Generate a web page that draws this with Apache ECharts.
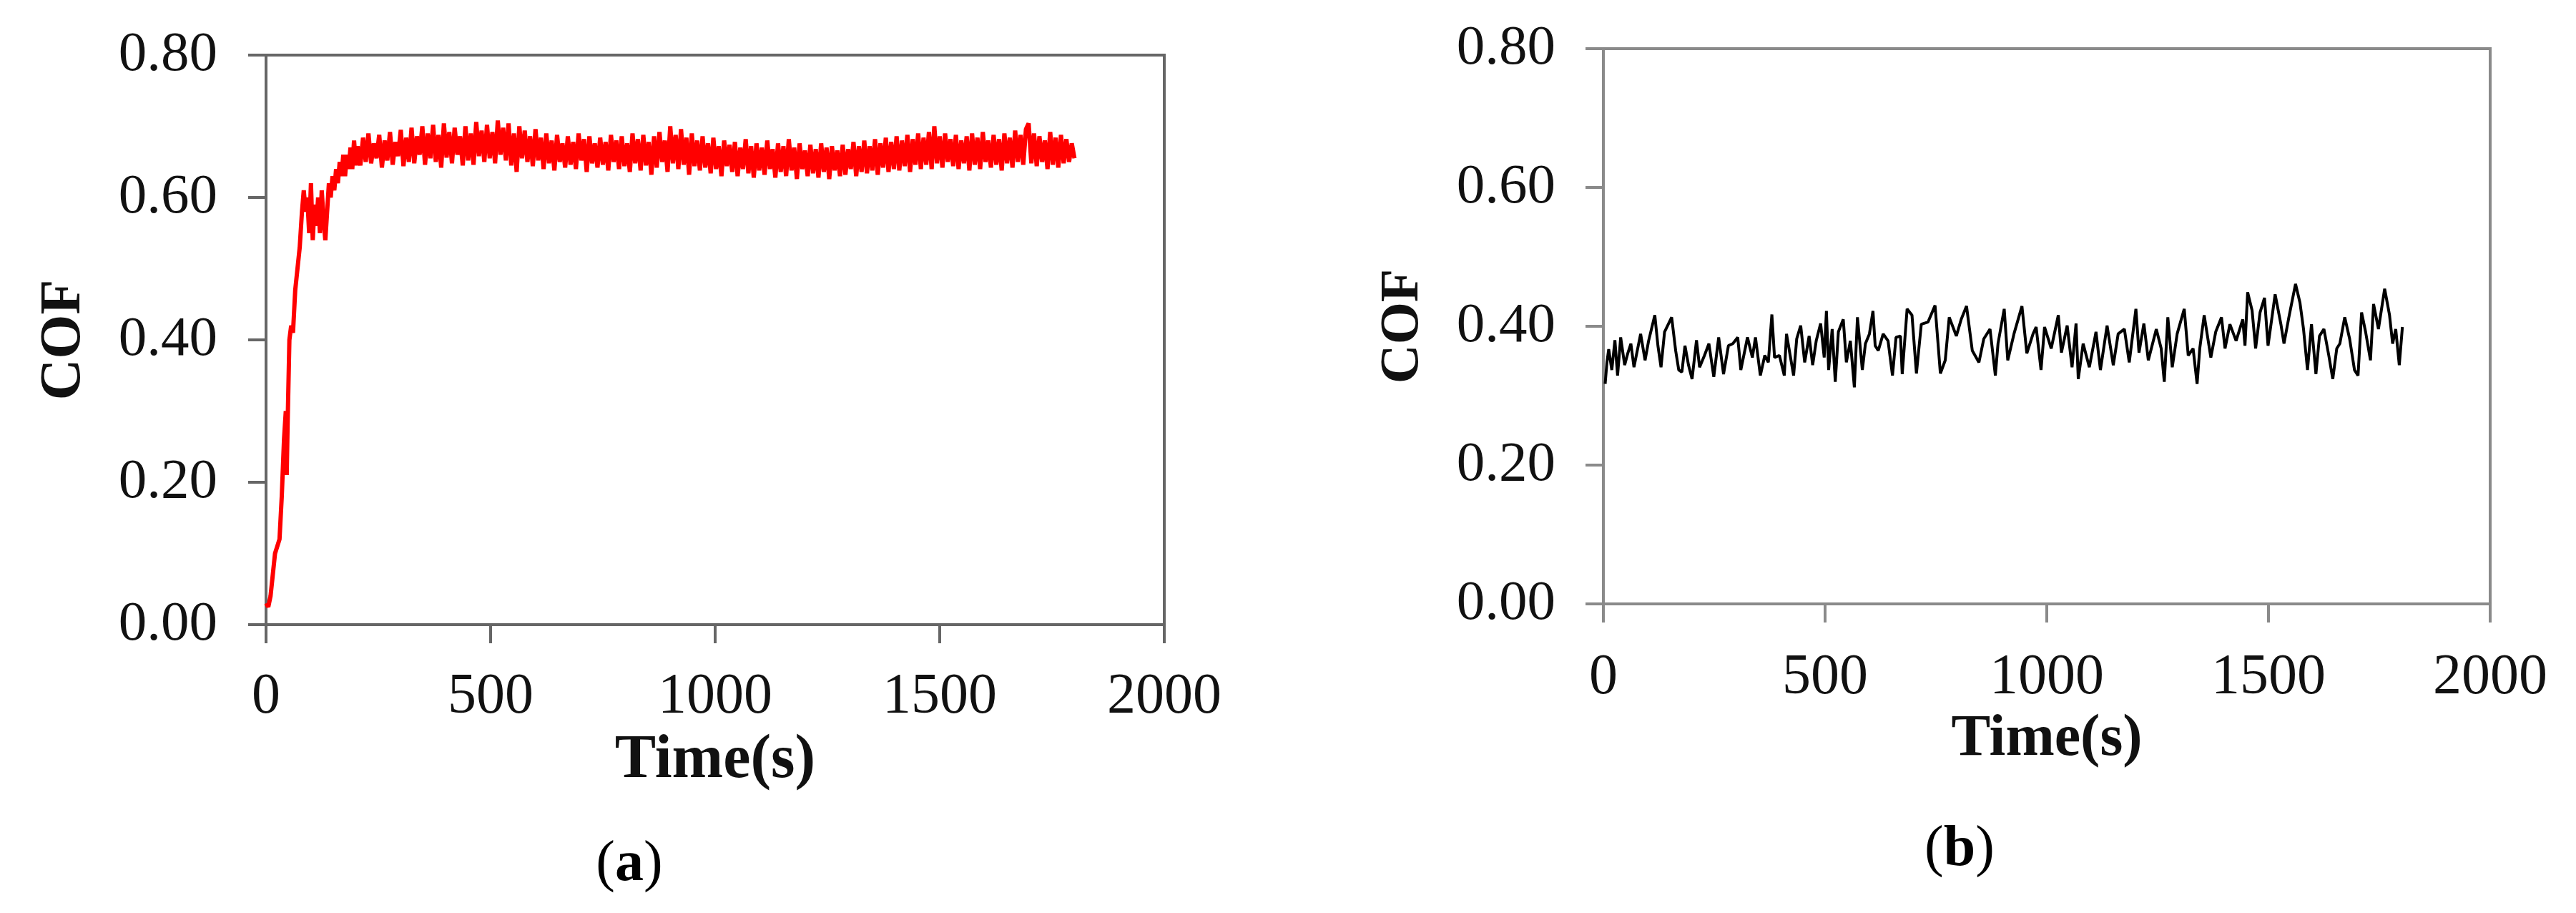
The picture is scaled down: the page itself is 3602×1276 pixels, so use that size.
<!DOCTYPE html>
<html>
<head>
<meta charset="utf-8">
<script src="https://cdn.jsdelivr.net/npm/echarts@6/dist/echarts.min.js"></script>
<style>
html,body{margin:0;padding:0;background:#fff;}
#c{width:3602px;height:1276px;}
</style>
</head>
<body>
<div id="c"></div>
<script>
// ---------- Panel (a): red curve ----------
const timeRiseA = [0,5,10,15,20,25,30,35,40,44,46,48,52,56,60,65,70,75,80,84,88,92,96,100,104,108,112,116,120,124,128,132,136,140,144,148,152,156,160,164,168,172,176,180,184,188,192,196,200];
const cofRiseA = [0.03,0.025,0.04,0.07,0.10,0.11,0.12,0.18,0.26,0.30,0.21,0.28,0.40,0.42,0.41,0.47,0.50,0.53,0.58,0.61,0.58,0.60,0.55,0.62,0.54,0.59,0.56,0.60,0.55,0.61,0.57,0.54,0.58,0.62,0.60,0.63,0.61,0.64,0.62,0.65,0.63,0.66,0.63,0.66,0.64,0.67,0.64,0.68,0.645];
// plateau sampled every 6 s from 204 s to 1800 s
const plateauStartA = 204;
const plateauStepA = 6;
const cofPlateauA = [
0.672,0.645,0.684,0.650,0.690,0.648,0.676,0.655,0.688,0.642,
0.680,0.652,0.692,0.646,0.678,0.658,0.695,0.644,0.684,0.650,
0.698,0.648,0.686,0.660,0.700,0.646,0.690,0.655,0.702,0.650,
0.688,0.642,0.704,0.656,0.692,0.648,0.698,0.660,0.686,0.645,
0.700,0.652,0.690,0.646,0.706,0.658,0.694,0.650,0.702,0.655,
0.692,0.648,0.708,0.660,0.698,0.652,0.704,0.645,0.690,0.636,
0.700,0.655,0.694,0.650,0.686,0.644,0.696,0.652,0.684,0.640,
0.690,0.648,0.680,0.638,0.688,0.650,0.676,0.642,0.686,0.646,
0.678,0.640,0.690,0.652,0.682,0.636,0.686,0.648,0.676,0.642,
0.684,0.646,0.678,0.638,0.688,0.650,0.680,0.640,0.686,0.644,
0.676,0.636,0.690,0.648,0.682,0.638,0.688,0.645,0.678,0.632,
0.686,0.642,0.692,0.650,0.680,0.636,0.700,0.648,0.688,0.640,
0.696,0.646,0.684,0.632,0.690,0.644,0.680,0.638,0.686,0.642,
0.676,0.634,0.684,0.640,0.672,0.630,0.680,0.644,0.674,0.636,
0.678,0.630,0.670,0.640,0.682,0.634,0.672,0.628,0.676,0.638,
0.670,0.632,0.680,0.640,0.668,0.628,0.676,0.636,0.672,0.630,
0.682,0.638,0.670,0.626,0.676,0.640,0.666,0.630,0.674,0.634,
0.668,0.628,0.676,0.636,0.670,0.626,0.672,0.638,0.666,0.630,
0.674,0.632,0.668,0.640,0.678,0.630,0.672,0.636,0.680,0.634,
0.672,0.638,0.682,0.632,0.676,0.642,0.684,0.636,0.678,0.640,
0.686,0.638,0.680,0.644,0.688,0.636,0.682,0.646,0.690,0.640,
0.684,0.646,0.692,0.640,0.700,0.648,0.686,0.642,0.690,0.650,
0.682,0.644,0.688,0.640,0.680,0.648,0.686,0.638,0.690,0.646,
0.684,0.640,0.692,0.650,0.680,0.642,0.688,0.646,0.682,0.638,
0.690,0.648,0.684,0.642,0.694,0.650,0.688,0.646,0.696,0.704,
0.648,0.690,0.644,0.686,0.650,0.680,0.640,0.692,0.646,0.684,
0.642,0.688,0.648,0.682,0.650,0.676,0.655
];

// ---------- Panel (b): black curve ----------
const timeB = [4,8,12,19,26,32,39,48,55,62,69,84,94,102,116,123,130,138,154,163,170,177,184,192,200,210,217,228,238,249,260,271,282,292,303,310,325,336,343,354,364,372,380,386,397,408,413,429,436,445,454,464,472,480,490,498,503,508,516,523,530,541,548,557,566,573,584,591,600,608,613,620,631,642,652,660,670,674,685,696,706,717,732,748,760,771,780,796,807,819,832,847,858,872,884,890,904,912,926,944,955,969,976,987,995,1010,1026,1033,1046,1057,1066,1071,1082,1096,1111,1121,1136,1150,1161,1175,1186,1201,1208,1219,1229,1247,1258,1265,1273,1283,1294,1310,1319,1330,1339,1345,1355,1370,1381,1394,1402,1413,1427,1442,1447,1453,1463,1471,1481,1491,1499,1515,1528,1535,1546,1561,1571,1579,1588,1597,1607,1615,1625,1636,1645,1654,1661,1672,1683,1694,1702,1710,1719,1730,1737,1748,1762,1773,1780,1787,1795,1802];
const cofB = [0.317,0.348,0.367,0.337,0.380,0.329,0.384,0.344,0.361,0.375,0.341,0.389,0.351,0.379,0.416,0.372,0.341,0.392,0.413,0.365,0.337,0.334,0.372,0.344,0.324,0.380,0.341,0.358,0.375,0.327,0.384,0.331,0.372,0.375,0.384,0.337,0.384,0.355,0.384,0.329,0.358,0.348,0.417,0.355,0.358,0.329,0.389,0.329,0.382,0.401,0.348,0.386,0.344,0.379,0.404,0.355,0.422,0.337,0.396,0.320,0.392,0.410,0.348,0.379,0.312,0.413,0.337,0.375,0.389,0.422,0.372,0.365,0.389,0.379,0.329,0.384,0.386,0.331,0.425,0.416,0.332,0.403,0.406,0.430,0.332,0.351,0.413,0.386,0.410,0.429,0.365,0.348,0.382,0.396,0.329,0.375,0.425,0.351,0.389,0.429,0.361,0.389,0.399,0.337,0.399,0.368,0.416,0.362,0.401,0.341,0.404,0.324,0.375,0.341,0.392,0.337,0.401,0.344,0.389,0.396,0.348,0.425,0.362,0.404,0.351,0.396,0.368,0.320,0.413,0.341,0.389,0.425,0.358,0.368,0.317,0.368,0.416,0.355,0.392,0.413,0.368,0.403,0.379,0.410,0.372,0.449,0.423,0.368,0.420,0.441,0.372,0.446,0.403,0.375,0.413,0.461,0.434,0.396,0.337,0.403,0.331,0.386,0.396,0.358,0.324,0.368,0.375,0.413,0.382,0.337,0.329,0.420,0.392,0.351,0.432,0.396,0.454,0.416,0.375,0.396,0.344,0.399];

// ---------- Axes ----------
const xTicks = [0, 500, 1000, 1500, 2000];
const yTicks = [0.00, 0.20, 0.40, 0.60, 0.80];
const xName = 'Time(s)';
const yName = 'COF';
const panelLabels = ['a', 'b'];

const dataA = [];
timeRiseA.forEach((t, i) => dataA.push([t, cofRiseA[i]]));
cofPlateauA.forEach((v, i) => dataA.push([plateauStartA + i * plateauStepA, v]));
const dataB = timeB.map((t, i) => [t, cofB[i]]);

const FONT = "'Liberation Serif', 'Times New Roman', serif";

function xAxisCfg(gi, color, nameGap, nameSize, labelMargin) {
  return {
    gridIndex: gi, type: 'value', min: xTicks[0], max: xTicks[xTicks.length - 1],
    interval: xTicks[1] - xTicks[0],
    axisLine: { show: true, lineStyle: { color: color, width: 4 } },
    axisTick: { show: true, inside: false, length: 26, lineStyle: { color: color, width: 4 } },
    splitLine: { show: false },
    axisLabel: { color: '#111', fontFamily: FONT, fontSize: 80, margin: labelMargin,
      formatter: v => String(v) },
    name: xName, nameLocation: 'middle', nameGap: nameGap,
    nameTextStyle: { color: '#111', fontFamily: FONT, fontWeight: 'bold', fontSize: nameSize }
  };
}
function yAxisCfg(gi, color, nameGap, nameSize, labelMargin) {
  return {
    gridIndex: gi, type: 'value', min: yTicks[0], max: yTicks[yTicks.length - 1],
    interval: 0.2,
    axisLine: { show: true, lineStyle: { color: color, width: 4 } },
    axisTick: { show: true, inside: false, length: 25, lineStyle: { color: color, width: 4 } },
    splitLine: { show: false },
    axisLabel: { color: '#111', fontFamily: FONT, fontSize: 79, margin: labelMargin,
      formatter: v => Number(v).toFixed(2) },
    name: yName, nameLocation: 'middle', nameGap: nameGap, nameRotate: 90,
    nameTextStyle: { color: '#111', fontFamily: FONT, fontWeight: 'bold', fontSize: nameSize }
  };
}

const colA = '#666666', colB = '#8a8a8a';

const chart = echarts.init(document.getElementById('c'), null, { renderer: 'canvas' });
chart.setOption({
  animation: false,
  backgroundColor: '#fff',
  grid: [
    { left: 372, top: 77, width: 1256, height: 796, show: true, borderColor: colA, borderWidth: 4, backgroundColor: 'transparent' },
    { left: 2242, top: 68, width: 1240, height: 776, show: true, borderColor: colB, borderWidth: 4, backgroundColor: 'transparent' }
  ],
  xAxis: [ xAxisCfg(0, colA, 148, 86, 62), xAxisCfg(1, colB, 140, 82, 64) ],
  yAxis: [ yAxisCfg(0, colA, 242, 80, 68), yAxisCfg(1, colB, 242, 76, 67) ],
  series: [
    { type: 'line', xAxisIndex: 0, yAxisIndex: 0, data: dataA, showSymbol: false,
      lineStyle: { color: '#ff0000', width: 6 }, clip: true },
    { type: 'line', xAxisIndex: 1, yAxisIndex: 1, data: dataB, showSymbol: false,
      lineStyle: { color: '#000', width: 4 }, clip: true }
  ],
  graphic: [
    { type: 'text', x: 880, y: 1209, style: { text: '{n|(}{b|' + panelLabels[0] + '}{n|)}', align: 'center', verticalAlign: 'middle',
      rich: { n: { fontFamily: FONT, fontSize: 80, fill: '#000' }, b: { fontFamily: FONT, fontSize: 80, fontWeight: 'bold', fill: '#000' } } } },
    { type: 'text', x: 2740, y: 1188, style: { text: '{n|(}{b|' + panelLabels[1] + '}{n|)}', align: 'center', verticalAlign: 'middle',
      rich: { n: { fontFamily: FONT, fontSize: 80, fill: '#000' }, b: { fontFamily: FONT, fontSize: 80, fontWeight: 'bold', fill: '#000' } } } }
  ]
});
</script>
</body>
</html>
